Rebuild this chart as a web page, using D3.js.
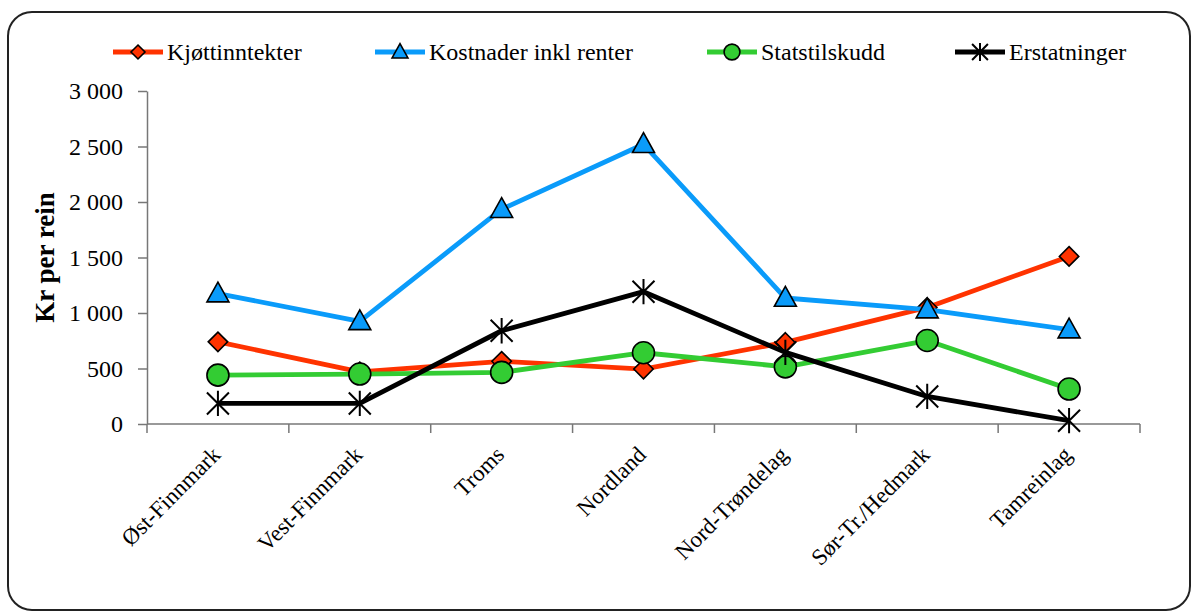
<!DOCTYPE html>
<html lang="no">
<head>
<meta charset="utf-8">
<title>Kr per rein</title>
<script src="https://cdn.jsdelivr.net/npm/d3@7"></script>
<style>
  body { margin: 0; background: #fff; }
</style>
</head>
<body>
<svg></svg>
<script>
// data
var categories = ["Øst-Finnmark", "Vest-Finnmark", "Troms", "Nordland", "Nord-Trøndelag", "Sør-Tr./Hedmark", "Tamreinlag"];
var kjott = [740, 470, 565, 495, 735, 1050, 1510];
var kostnader = [1175, 925, 1935, 2520, 1135, 1030, 850];
var statstilskudd = [440, 450, 465, 642, 515, 752, 315];
var erstatninger = [185, 185, 840, 1192, 645, 248, 30];
var yTicks = [0, 500, 1000, 1500, 2000, 2500, 3000];

var series = [
  { name: "Kjøttinntekter", values: kjott, color: "#FF3300", marker: "diamond" },
  { name: "Kostnader inkl renter", values: kostnader, color: "#0A9BFA", marker: "triangle" },
  { name: "Statstilskudd", values: statstilskudd, color: "#33CC33", marker: "circle" },
  { name: "Erstatninger", values: erstatninger, color: "#000000", marker: "star" }
];

var FONT = "'Liberation Serif', 'Times New Roman', Times, serif";
var width = 1196, height = 615;
var svg = d3.select("svg").attr("width", width).attr("height", height)
  .style("display", "block").style("font-family", FONT);

// frame
svg.append("rect")
  .attr("x", 8).attr("y", 12).attr("width", 1182).attr("height", 598)
  .attr("rx", 24).attr("ry", 24)
  .attr("fill", "none").attr("stroke", "#222").attr("stroke-width", 2);

var plot = { left: 147, right: 1140, top: 91, bottom: 424 };

var x = d3.scaleBand().domain(categories).range([plot.left, plot.right]);
var y = d3.scaleLinear().domain([0, 3000]).range([plot.bottom, plot.top]);

var fmt = function(d) { return d3.format(",")(d).replace(",", " "); };

// y axis
var yAxis = svg.append("g")
  .attr("transform", "translate(" + plot.left + ",0)")
  .call(d3.axisLeft(y).tickValues(yTicks).tickFormat(fmt).tickSize(9).tickSizeOuter(0));
yAxis.attr("font-family", null).attr("font-size", null);
yAxis.selectAll("path, line").attr("stroke", "#777").attr("stroke-width", 1.5);
yAxis.selectAll("text")
  .attr("x", -24)
  .style("font-family", FONT).style("font-size", "24px").attr("fill", "#000");

// x axis: ticks on band edges
var edges = categories.map(function(c) { return x(c); }).concat([plot.right]);
var xg = svg.append("g");
xg.append("line")
  .attr("x1", plot.left).attr("x2", plot.right)
  .attr("y1", plot.bottom).attr("y2", plot.bottom)
  .attr("stroke", "#777").attr("stroke-width", 1.5);
xg.selectAll("line.tk").data(edges).enter().append("line").attr("class", "tk")
  .attr("x1", function(d) { return d; }).attr("x2", function(d) { return d; })
  .attr("y1", plot.bottom).attr("y2", plot.bottom + 9)
  .attr("stroke", "#777").attr("stroke-width", 1.5);
xg.selectAll("text").data(categories).enter().append("text")
  .attr("transform", function(d) {
    return "translate(" + (x(d) + x.bandwidth() / 2 + 4) + "," + (plot.bottom + 32) + ") rotate(-45)";
  })
  .attr("text-anchor", "end")
  .style("font-family", FONT).style("font-size", "23px")
  .text(function(d) { return d; });

// y title
svg.append("text")
  .attr("transform", "translate(54," + ((plot.top + plot.bottom) / 2) + ") rotate(-90)")
  .attr("text-anchor", "middle")
  .style("font-family", FONT).style("font-size", "27px").style("font-weight", "bold")
  .text("Kr per rein");

function drawMarker(g, type, color, cx, cy, s) {
  var k = s || 1;
  if (type === "diamond") {
    g.append("path")
      .attr("d", d3.symbol().type(d3.symbolDiamond2).size(240 * k * k)())
      .attr("transform", "translate(" + cx + "," + cy + ")")
      .attr("fill", color).attr("stroke", "#000").attr("stroke-width", 1.6);
  } else if (type === "triangle") {
    var r = 11 * k;
    g.append("path")
      .attr("d", "M" + cx + "," + (cy - r * 1.05) + "L" + (cx + r) + "," + (cy + r * 0.75) + "L" + (cx - r) + "," + (cy + r * 0.75) + "Z")
      .attr("fill", color).attr("stroke", "#000").attr("stroke-width", 1.6);
  } else if (type === "circle") {
    g.append("circle").attr("cx", cx).attr("cy", cy).attr("r", 11 * k)
      .attr("fill", color).attr("stroke", "#000").attr("stroke-width", 1.6);
  } else {
    var a = 11 * k;
    var p = "M" + (cx - a) + "," + (cy - a) + "L" + (cx + a) + "," + (cy + a) +
            "M" + (cx - a) + "," + (cy + a) + "L" + (cx + a) + "," + (cy - a) +
            "M" + cx + "," + (cy - a * 1.15) + "L" + cx + "," + (cy + a * 1.15);
    g.append("path").attr("d", p).attr("stroke", "#000").attr("stroke-width", 2).attr("fill", "none");
  }
}

var line = d3.line()
  .x(function(d, i) { return x(categories[i]) + x.bandwidth() / 2; })
  .y(function(d) { return y(d); });

series.forEach(function(s) {
  var g = svg.append("g");
  g.append("path").datum(s.values)
    .attr("d", line)
    .attr("fill", "none").attr("stroke", s.color).attr("stroke-width", 4.8)
    .attr("stroke-linejoin", "round");
  s.values.forEach(function(v, i) {
    drawMarker(g, s.marker, s.color, x(categories[i]) + x.bandwidth() / 2, y(v), 1);
  });
});

// legend
var legendX = [113, 375, 707, 955];
series.forEach(function(s, i) {
  var g = svg.append("g").attr("transform", "translate(" + legendX[i] + ",52)");
  g.append("line").attr("x1", 0).attr("x2", 50).attr("y1", 0).attr("y2", 0)
    .attr("stroke", s.color).attr("stroke-width", 4.8);
  drawMarker(g, s.marker, s.color, 25, 0, 0.72);
  g.append("text").attr("x", 54).attr("y", 8)
    .style("font-family", FONT).style("font-size", "24px")
    .text(s.name);
});
</script>
</body>
</html>
